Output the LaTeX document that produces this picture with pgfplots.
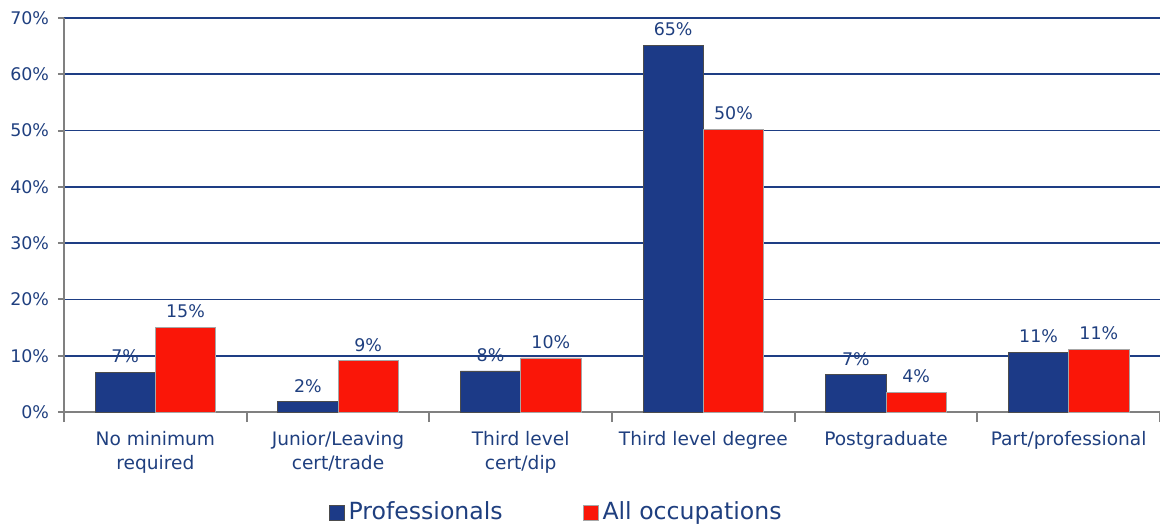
\documentclass[border=0pt]{standalone}
\usepackage{fontspec}
\setmainfont{DejaVu Sans}
\usepackage{pgfplots}
\usepackage{pgfplotstable}
\pgfplotsset{compat=1.18}
\definecolor{txtblue}{RGB}{31,63,127}
\definecolor{barblue}{RGB}{28,58,135}
\definecolor{barred}{RGB}{250,22,8}
\definecolor{gridblue}{RGB}{30,62,132}
\pgfplotstableread{
x y lab
0 7.0 7
1 1.8 2
2 7.3 8
3 65.2 65
4 6.6 7
5 10.6 11
}\profs
\pgfplotstableread{
x y lab
0 15.1 15
1 9.1 9
2 9.6 10
3 50.2 50
4 3.5 4
5 11.1 11
}\allocc
\begin{document}
\begin{tikzpicture}[x=1pt,y=1pt]
\useasboundingbox (-32,-56.5) rectangle (548,206);
\begin{axis}[at={(0,0)}, anchor=south west, scale only axis,
  width=548pt, height=197pt,
  xmin=-0.5, xmax=5.5, ymin=0, ymax=70,
  ybar, bar width=0.33,
  ytick={0,10,...,70},
  yticklabel={\pgfmathprintnumber{\tick}\%},
  xtick={0,...,5},
  xticklabels={{No minimum\\required},{Junior/Leaving\\cert/trade},{Third level\\cert/dip},{Third level degree},{Postgraduate},{Part/professional}},
  minor xtick={-0.5,0.5,...,5.5},
  axis x line*=bottom, axis y line*=left,
  axis line style={draw=gray, line width=1pt},
  tick align=outside,
  major tick length=3pt, minor tick length=5pt,
  major x tick style={draw=none},
  minor x tick style={draw=gray, line width=1pt},
  major y tick style={draw=gray, line width=1pt},
  ymajorgrids, grid style={draw=gridblue, line width=0.9pt},
  /pgf/number format/assume math mode=true,
  yticklabel style={font=\fontsize{8.7}{10}\selectfont, text=txtblue, xshift=-1pt},
  xticklabel style={font=\fontsize{9.3}{12.3}\selectfont, text=txtblue, align=center, yshift=-3pt},
  nodes near coords={\pgfplotspointmeta\%},
  point meta=explicit symbolic,
  every node near coord/.append style={font=\fontsize{8.7}{10}\selectfont, text=txtblue, inner sep=2pt, yshift=2.5pt},
  legend style={at={(0.45,-0.255)}, anchor=center, legend columns=2, draw=none, fill=none,
    font=\fontsize{11.8}{14}\selectfont, text=txtblue,
    /tikz/every even column/.append style={column sep=38pt}},
  legend image code/.code={\fill[#1] (0pt,-3.8pt) rectangle (7.5pt,3.7pt);},
]
\addplot[bar shift=-0.165, fill=barblue, draw=gray!60!black, line width=0.4pt]
  table[x=x, y=y, meta=lab] {\profs};
\addlegendentry{Professionals}
\addplot[bar shift=0.165, fill=barred, draw=gray!70, line width=0.4pt]
  table[x=x, y=y, meta=lab] {\allocc};
\addlegendentry{All occupations}
\end{axis}
\end{tikzpicture}
\end{document}
